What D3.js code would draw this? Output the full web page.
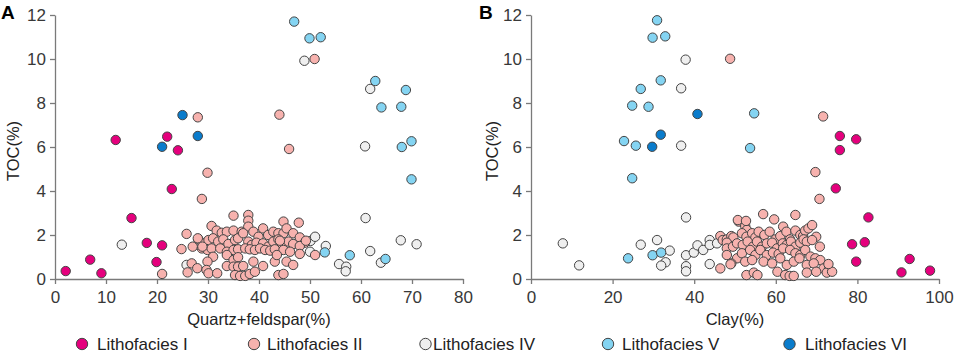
<!DOCTYPE html>
<html>
<head>
<meta charset="utf-8">
<script src="https://cdn.jsdelivr.net/npm/d3@7"></script>
<style>
  body { margin: 0; background: #fff; }
  text { font-family: "Liberation Sans", Arial, sans-serif; }
</style>
</head>
<body>
<div id="chart"></div>
<script>
// DATA: [x, TOC] pairs
// panel A: quartz+feldspar (%) vs TOC (%)
const qfI = [[2.1,0.36],[6.9,0.88],[9.1,0.26],[11.9,6.32],[15.0,2.77],[18.0,1.64],[19.9,0.77],[21.0,1.53],[22.0,6.47],[22.9,4.09],[24.1,5.85]];
const qfII = [[21.0,0.23],[28.0,7.35],[29.9,4.83],[28.8,3.64],[44.0,7.47],[45.9,5.91],[50.9,10.0],
  [35.0,2.88],[37.9,2.91],[37.9,2.65],[44.8,2.61],[47.8,2.56],[30.7,2.41],[31.7,2.2],[32.7,2.1],[33.7,2.15],[35.0,2.2],[36.6,2.15],
  [37.9,2.38],[38.9,2.15],[39.9,1.92],[40.8,2.3],[41.8,2.0],[42.8,2.15],[43.8,2.08],[44.8,2.08],[45.4,2.3],[46.7,2.08],[48.0,1.89],
  [49.0,1.65],[25.8,2.05],[24.8,1.36],[27.0,1.47],[28.1,1.8],[29.0,1.62],[30.1,1.77],[31.0,1.85],[32.0,1.7],[33.0,1.8],[34.0,1.59],
  [35.3,1.77],[35.9,1.85],[36.9,2.08],[37.9,1.7],[38.6,1.55],[39.5,1.65],[40.8,1.62],[41.8,1.47],[42.8,1.7],[43.8,1.8],[44.4,1.55],
  [45.8,1.7],[46.7,1.59],[48.0,1.5],[49.2,1.74],[28.8,1.39],[29.9,1.32],[30.7,1.39],[32.4,1.39],[33.7,1.24],[35.0,1.32],[35.9,1.35],
  [37.3,1.39],[38.2,1.35],[39.2,1.32],[40.2,1.39],[41.2,1.32],[42.2,1.29],[43.1,1.35],[44.8,1.32],[46.1,1.24],[48.0,1.14],[51.0,1.09],
  [31.0,1.01],[29.9,0.79],[33.7,1.09],[35.0,0.86],[35.9,0.99],[38.9,0.79],[40.8,0.59],[43.1,0.79],[43.5,1.09],[45.4,0.79],[46.7,0.64],
  [26.8,0.71],[27.9,0.49],[29.7,0.41],[30.1,0.26],[31.8,0.26],[33.7,0.59],[35.0,0.56],[35.9,0.56],[36.9,0.59],[35.3,0.18],[36.3,0.14],
  [37.3,0.14],[38.2,0.23],[39.2,0.33],[43.8,0.18],[44.8,0.23],[26.0,0.3],[28.0,1.85],[28.9,1.47],[44.1,1.74]];
const qfIV = [[13.1,1.56],[25.8,0.64],[48.9,9.92],[50.1,1.73],[51.0,1.92],[50.0,1.24],[53.1,1.5],[55.7,0.68],[57.1,0.56],[57.0,0.35],
  [60.8,6.03],[60.9,2.77],[61.8,8.64],[61.8,1.27],[63.9,0.74],[67.8,1.76],[70.9,1.58]];
const qfV = [[46.9,11.7],[49.9,10.94],[52.1,10.99],[62.8,9.0],[68.8,8.59],[64.0,7.8],[67.9,7.83],[69.9,6.26],[68.0,6.0],[69.9,4.53],
  [52.9,1.21],[57.8,1.08],[64.8,0.91]];
const qfVI = [[25.0,7.45],[21.0,6.01],[28.0,6.5]];

// panel B: clay (%) vs TOC (%)
const clayI = [[75.7,6.5],[79.7,6.35],[75.7,5.86],[74.7,4.12],[82.7,2.8],[78.7,1.58],[81.8,1.67],[79.7,0.79],[92.8,0.91],[90.8,0.3],[97.8,0.38]];
const clayII = [[48.8,10.01],[71.6,7.39],[69.7,4.86],[70.7,3.64],
  [46.4,1.95],[47.0,1.77],[48.0,1.8],[49.1,1.95],[49.6,1.89],[50.9,2.61],[52.5,2.41],[52.9,2.23],[51.7,2.08],[52.8,1.92],[54.2,2.08],
  [55.0,1.89],[55.8,2.15],[56.9,2.95],[57.2,2.0],[58.5,2.15],[59.6,2.71],[59.9,1.8],[61.1,1.95],[61.8,2.38],[62.6,2.15],[63.5,1.8],
  [64.8,2.91],[64.8,2.2],[66.0,2.0],[66.7,1.95],[67.2,2.2],[68.0,2.3],[68.9,2.45],[70.8,1.47],[69.9,1.92],[48.0,1.65],[48.0,1.39],
  [49.5,1.47],[50.5,1.62],[51.9,1.55],[53.1,1.7],[54.4,1.47],[55.4,1.7],[56.6,1.47],[57.8,1.62],[59.1,1.65],[60.3,1.39],[61.7,1.62],
  [62.7,1.55],[63.7,1.7],[64.8,1.47],[66.0,1.65],[66.8,1.8],[67.6,1.7],[68.9,1.77],[48.0,1.09],[50.5,0.94],[51.7,1.17],[53.7,1.32],
  [55.0,1.09],[56.2,1.32],[57.8,1.09],[59.3,1.2],[60.7,1.14],[61.8,1.39],[63.5,1.32],[64.8,1.17],[66.0,1.09],[67.2,1.32],[68.5,1.02],
  [69.7,0.94],[70.9,0.86],[46.4,0.48],[49.1,0.71],[52.5,0.79],[54.2,0.86],[57.0,0.79],[59.1,0.71],[61.1,0.94],[62.7,0.64],[64.4,0.79],
  [65.8,0.94],[67.6,0.64],[69.3,0.71],[71.7,0.48],[73.0,0.41],[52.8,0.18],[54.6,0.29],[55.5,0.18],[60.4,0.33],[62.3,0.18],[63.4,0.14],
  [64.4,0.14],[67.6,0.29],[69.9,0.33],[72.5,0.29],[73.8,0.33],[50.7,2.68],[52.7,2.64],[72.9,0.68],[48.9,0.67]];
const clayIV = [[37.9,9.97],[36.8,8.67],[36.8,6.06],[7.8,1.62],[11.8,0.62],[26.9,1.56],[30.9,1.77],[33.0,0.76],[31.9,0.61],[34.0,1.29],
  [38.0,2.8],[38.0,1.08],[38.0,0.58],[38.0,0.35],[39.9,1.2],[40.8,1.53],[42.2,1.32],[43.8,1.77],[43.8,1.55],[45.6,1.62],[43.8,0.68]];
const clayV = [[30.9,11.76],[29.8,10.97],[32.9,11.03],[31.8,9.03],[26.9,8.64],[24.8,7.88],[28.8,7.83],[54.7,7.53],[22.8,6.27],[25.7,6.06],
  [53.7,5.95],[24.8,4.58],[23.8,0.94],[29.8,1.08],[31.9,1.2]];
const clayVI = [[40.8,7.5],[31.8,6.56],[29.7,6.01]];

const faciesNames = ["Lithofacies I", "Lithofacies II", "Lithofacies IV", "Lithofacies V", "Lithofacies VI"];
const faciesColors = ["#e5007d", "#f7b2ae", "#efefef", "#84d4f2", "#0a7ccc"];
const xTicksA = [0, 10, 20, 30, 40, 50, 60, 70, 80];
const xTicksB = [0, 20, 40, 60, 80, 100];
const yTicks = [0, 2, 4, 6, 8, 10, 12];

const W = 955, H = 353;
const svg = d3.select("#chart").append("svg").attr("width", W).attr("height", H);

//shared y scale
const y = d3.scaleLinear().domain([0, 12]).range([279, 15]);

function drawPanel(opt) {
    const x = d3.scaleLinear().domain(opt.xDomain).range(opt.xRange);
    const g = svg.append("g");

    //axes
    const ya = g.append("g")
        .attr("transform", "translate(" + opt.xRange[0] + ",0)")
        .call(d3.axisLeft(y).tickValues(yTicks).tickSize(5).tickSizeOuter(0).tickPadding(4));
    const xa = g.append("g")
        .attr("transform", "translate(0," + y(0) + ")")
        .call(d3.axisBottom(x).tickValues(opt.xTicks).tickSize(5).tickSizeOuter(0).tickPadding(7));
    [ya, xa].forEach(function (a) {
        a.selectAll("path, line").attr("stroke", "#7a7a7a").attr("stroke-width", 1.3);
        a.selectAll("text").attr("fill", "#383838").style("font-size", "17px")
            .style("font-family", "'Liberation Sans', Arial, sans-serif");
    });

    //axis titles
    g.append("text")
        .attr("x", (opt.xRange[0] + opt.xRange[1]) / 2)
        .attr("y", 325)
        .attr("text-anchor", "middle")
        .attr("fill", "#222").style("font-size", "16.5px")
        .text(opt.xLabel);
    g.append("text")
        .attr("transform", "translate(" + opt.yLabelX + ",151) rotate(-90)")
        .attr("text-anchor", "middle")
        .attr("fill", "#222").style("font-size", "16.5px")
        .text("TOC(%)");

    //panel letter
    g.append("text")
        .attr("x", opt.letterX).attr("y", 19)
        .attr("fill", "#000").style("font-size", "19px").style("font-weight", "bold")
        .text(opt.letter);

    //points, drawn in layer order
    const order = [2, 1, 0, 3, 4];
    order.forEach(function (k) {
        g.append("g").selectAll("circle")
            .data(opt.series[k])
            .enter().append("circle")
            .attr("cx", d => x(d[0]))
            .attr("cy", d => y(d[1]))
            .attr("r", 4.7)
            .attr("fill", faciesColors[k])
            .attr("stroke", "#444")
            .attr("stroke-width", 1);
    });
}

drawPanel({
    xDomain: [0, 80], xRange: [55, 463], xTicks: xTicksA,
    xLabel: "Quartz+feldspar(%)", yLabelX: 19, letter: "A", letterX: 1,
    series: [qfI, qfII, qfIV, qfV, qfVI]
});
drawPanel({
    xDomain: [0, 100], xRange: [531, 939], xTicks: xTicksB,
    xLabel: "Clay(%)", yLabelX: 498, letter: "B", letterX: 479,
    series: [clayI, clayII, clayIV, clayV, clayVI]
});

//legend (symbol and label positions along the bottom row)
const legendX = [82, 254, 425.5, 608, 789.5];
const legendTextX = [97, 267, 433, 622, 805];
const legend = svg.append("g").selectAll("g")
    .data(faciesNames)
    .enter().append("g")
    .attr("transform", "translate(0,344)");
legend.append("circle")
    .attr("cx", (d, i) => legendX[i])
    .attr("r", 5.7)
    .attr("fill", (d, i) => faciesColors[i])
    .attr("stroke", "#444").attr("stroke-width", 1);
legend.append("text")
    .attr("x", (d, i) => legendTextX[i]).attr("y", 6)
    .attr("fill", "#222").style("font-size", "17px")
    .text(d => d);
</script>
</body>
</html>
